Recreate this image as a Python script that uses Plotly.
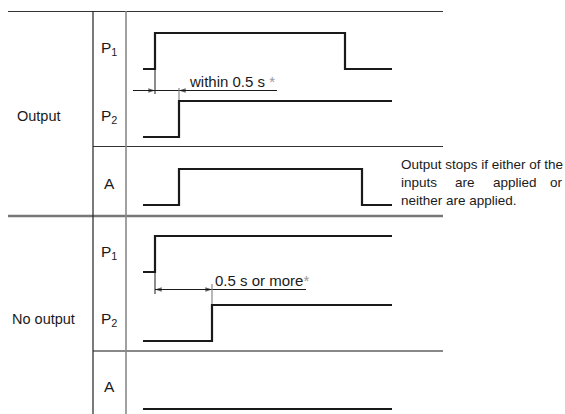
import plotly.graph_objects as go

# ---------------- data ----------------
SECTIONS = ["Output", "No output"]
SIGNALS = ["P<sub>1</sub>", "P<sub>2</sub>", "A"]
T_START = 143          # diagram time units
T_END = 392
# transition times of each signal (all start low), per section
OUT_P1 = [155, 345]
OUT_P2 = [179]
OUT_A = [179, 362]
NO_P1 = [155]
NO_P2 = [212]
NO_A = []
DIM_LABELS = ["within 0.5 s", "0.5 s or more"]
NOTE_LINE1 = "Output stops if either of the"
NOTE_LINE2 = ["inputs", "are", "applied", "or"]
NOTE_LINE3 = "neither are applied."

# ---------------- layout constants ----------------
W, H = 565, 414
ROW_LOW = [[69, 137, 205], [272, 341, 409]]   # baseline (low level) of each row
AMP = 36                                      # height of a high level
LABEL_Y = [[48, 116, 183], [252, 319, 386]]
SECTION_Y = [116, 319]
FONT = "Liberation Sans, Arial, sans-serif"
INK = "#1a1a1a"


def steps(trans):
    xs, ys, lvl = [T_START], [0], 0
    for t in trans:
        xs += [t, t]
        ys += [lvl, 1 - lvl]
        lvl = 1 - lvl
    xs.append(T_END)
    ys.append(lvl)
    return xs, ys


fig = go.Figure()

groups = [[OUT_P1, OUT_P2, OUT_A], [NO_P1, NO_P2, NO_A]]
for s, sig_list in enumerate(groups):
    for r, trans in enumerate(sig_list):
        xs, lv = steps(trans)
        ys = [ROW_LOW[s][r] - v * AMP for v in lv]
        fig.add_trace(go.Scatter(x=xs, y=ys, mode="lines",
                                 line=dict(color=INK, width=2.2),
                                 hoverinfo="skip", showlegend=False))

# ---------------- table lines ----------------
shapes = []
def hline(y, x0, x1, color, width):
    shapes.append(dict(type="line", x0=x0, x1=x1, y0=y, y1=y, xref="x", yref="y",
                       line=dict(color=color, width=width), layer="below"))
def vline(x, y0, y1, color, width):
    shapes.append(dict(type="line", x0=x, x1=x, y0=y0, y1=y1, xref="x", yref="y",
                       line=dict(color=color, width=width), layer="below"))

hline(11.5, 8, 443, "#333333", 1.2)
hline(146.5, 93, 443, "#333333", 1.2)
hline(216, 8, 443, "#777777", 2.6)
hline(351, 93, 443, "#888888", 2.2)
vline(93, 11, H, "#222222", 1.2)
vline(126, 11, H, "#8a8a8a", 1.6)

# dimension lines (upper)
hline(90.5, 133, 277, INK, 1)
vline(OUT_P1[0], ROW_LOW[0][0], 94, INK, 1)
vline(OUT_P2[0], 88, ROW_LOW[0][1] - AMP, "#888888", 1.2)
# dimension lines (lower)
hline(289.5, NO_P1[0], 306, INK, 1)
vline(NO_P1[0], ROW_LOW[1][0], 294, INK, 1)
vline(NO_P2[0], 284, ROW_LOW[1][1] - AMP, "#888888", 1.2)


def arrow(tip, tail, y):
    fig.add_trace(go.Scatter(x=[tail, tip], y=[y, y], mode="lines+markers",
                             line=dict(color=INK, width=1),
                             marker=dict(symbol="arrow", size=[0, 7], angleref="previous",
                                         color=INK, line=dict(width=0)),
                             hoverinfo="skip", showlegend=False))

arrow(OUT_P1[0], OUT_P1[0] - 9, 90.5)
arrow(OUT_P2[0], OUT_P2[0] + 9, 90.5)
arrow(NO_P1[0], NO_P1[0] + 9, 289.5)
arrow(NO_P2[0], NO_P2[0] - 9, 289.5)

ann = []
def text(x, y, s, size, anchor="center", color=INK):
    ann.append(dict(x=x, y=y, xref="x", yref="y", text=s, showarrow=False,
                    xanchor=anchor, yanchor="middle",
                    font=dict(family=FONT, size=size, color=color)))

for s in range(2):
    text(39 if s == 0 else 43, SECTION_Y[s], SECTIONS[s], 14.5)
    for r in range(3):
        text(109, LABEL_Y[s][r], SIGNALS[r], 15.5)

text(187, 81, DIM_LABELS[0] + " <span style='color:#999999'>*</span>", 15, "left")
text(213, 280, DIM_LABELS[1] + "<span style='color:#999999'>*</span>", 15, "left")

text(399, 164, NOTE_LINE1, 13.5, "left")
for word, x in zip(NOTE_LINE2, [399, 452.5, 490.5, 547.5]):
    text(x, 182.5, word, 13.5, "left")
text(399, 200.5, NOTE_LINE3, 13.5, "left")

fig.update_layout(
    width=W, height=H, margin=dict(l=0, r=0, t=0, b=0),
    paper_bgcolor="white", plot_bgcolor="white",
    xaxis=dict(range=[0, W], visible=False, fixedrange=True),
    yaxis=dict(range=[H, 0], visible=False, fixedrange=True),
    shapes=shapes, annotations=ann, showlegend=False,
)

fig.write_html("out.html", config={"displayModeBar": False},
               post_script="document.body.style.margin='0';document.body.style.overflow='hidden';")
